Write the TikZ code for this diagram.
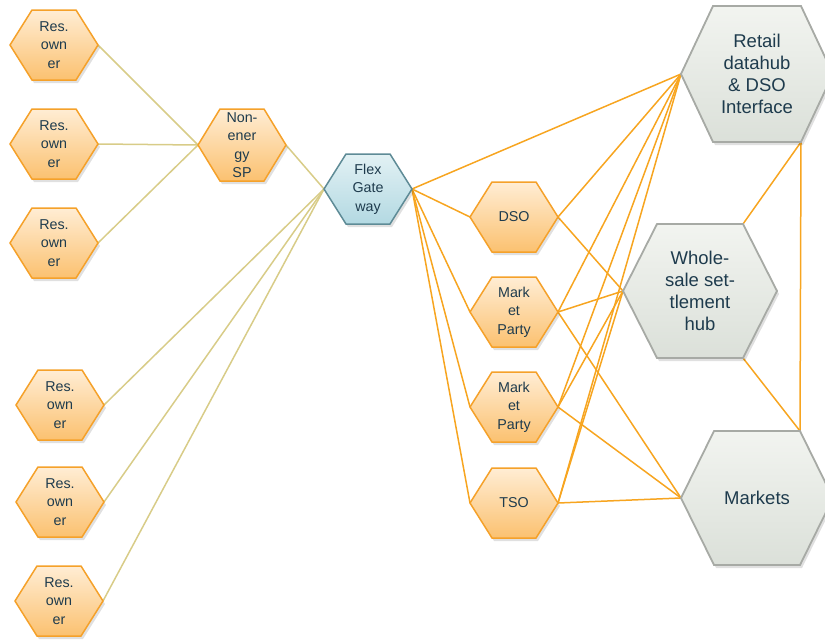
\documentclass[tikz,border=0pt]{standalone}
\usepackage{fontspec}
\setmainfont{Liberation Sans}
\usetikzlibrary{backgrounds}
\definecolor{lineor}{HTML}{F7A520}
\definecolor{linekh}{HTML}{D8CC88}
\definecolor{ortop}{HTML}{FFEDD4}
\definecolor{orbot}{HTML}{FBC170}
\definecolor{orbrd}{HTML}{F5A12A}
\definecolor{grtop}{HTML}{F2F4F0}
\definecolor{grbot}{HTML}{DBE0D9}
\definecolor{grbrd}{HTML}{A7AAA5}
\definecolor{bltop}{HTML}{E2F1F4}
\definecolor{blbot}{HTML}{B3D9E2}
\definecolor{blbrd}{HTML}{5E8B96}
\definecolor{txtc}{HTML}{1E3B4D}
\tikzset{
  orhex/.style={draw=orbrd, line width=1.5pt, top color=ortop, bottom color=orbot},
  grhex/.style={draw=grbrd, line width=1.8pt, top color=grtop, bottom color=grbot},
  blhex/.style={draw=blbrd, line width=1.5pt, top color=bltop, bottom color=blbot},
  smalltxt/.style={text=txtc, align=center, inner sep=0pt, font=\fontsize{14.3}{18.5}\selectfont},
  bigtxt/.style={text=txtc, align=center, inner sep=0pt, font=\fontsize{18.5}{22}\selectfont},
  kline/.style={draw=linekh, line width=1.5pt},
  oline/.style={draw=lineor, line width=1.5pt},
  hexshadow/.style={fill=black, opacity=0.12}
}
% #1 name, #2 x, #3 y, #4 half width, #5 half height, #6 half top edge, #7 shape style, #8 text style, #9 text
\newcommand{\hexa}[9]{%
  \fill[hexshadow] ({#2-#4+2},{#3+3}) -- ({#2-#6+2},{#3-#5+3}) -- ({#2+#6+2},{#3-#5+3}) -- ({#2+#4+2},{#3+3}) -- ({#2+#6+2},{#3+#5+3}) -- ({#2-#6+2},{#3+#5+3}) -- cycle;
  \path[#7] ({#2-#4},{#3}) coordinate (#1-W) -- ({#2-#6},{#3-#5}) coordinate (#1-NW) -- ({#2+#6},{#3-#5}) coordinate (#1-NE) -- ({#2+#4},{#3}) coordinate (#1-E) -- ({#2+#6},{#3+#5}) coordinate (#1-SE) -- ({#2-#6},{#3+#5}) coordinate (#1-SW) -- cycle;
  \node[#8] (#1) at (#2,#3) {#9};
}
\begin{document}
\begin{tikzpicture}[x=1pt, y=-1pt]
\useasboundingbox (0,0) rectangle (825,640);
% left resource owners
\hexa{res1}{54}{45}{44}{35}{22}{orhex}{smalltxt}{Res.\\own\\er}
\hexa{res2}{54}{144}{44}{35}{22}{orhex}{smalltxt}{Res.\\own\\er}
\hexa{res3}{54}{243}{44}{35}{22}{orhex}{smalltxt}{Res.\\own\\er}
\hexa{res4}{60}{405}{44}{35}{22}{orhex}{smalltxt}{Res.\\own\\er}
\hexa{res5}{60}{502}{44}{35}{22}{orhex}{smalltxt}{Res.\\own\\er}
\hexa{res6}{59}{601}{44}{35}{22}{orhex}{smalltxt}{Res.\\own\\er}
% service provider and gateway
\hexa{nesp}{242}{145}{44}{36}{22}{orhex}{smalltxt}{Non-\\ener\\gy\\SP}
\hexa{flex}{368}{189}{44}{35}{22}{blhex}{smalltxt}{Flex\\Gate\\way}
% middle column
\hexa{dso}{514}{217}{44}{35}{22}{orhex}{smalltxt}{DSO}
\hexa{mp1}{514}{312}{44}{35}{22}{orhex}{smalltxt}{Mark\\et\\Party}
\hexa{mp2}{514}{407}{44}{35}{22}{orhex}{smalltxt}{Mark\\et\\Party}
\hexa{tso}{514}{503}{44}{35}{22}{orhex}{smalltxt}{TSO}
% right hubs
\hexa{retail}{757}{74}{76}{68}{44}{grhex}{bigtxt}{Retail\\datahub\\\& DSO\\Interface}
\hexa{whole}{700}{291}{77}{67}{43}{grhex}{bigtxt}{Whole-\\sale set-\\tlement\\hub}
\hexa{markets}{757}{498}{76}{67}{43}{grhex}{bigtxt}{Markets}
\begin{scope}[on background layer]
  \draw[kline] (res1-E) -- (nesp-W);
  \draw[kline] (res2-E) -- (nesp-W);
  \draw[kline] (res3-E) -- (nesp-W);
  \draw[kline] (nesp-E) -- (flex-W);
  \draw[kline] (res4-E) -- (flex-W);
  \draw[kline] (res5-E) -- (flex-W);
  \draw[kline] (res6-E) -- (flex-W);
  \draw[oline] (flex-E) -- (retail-W);
  \draw[oline] (flex-E) -- (dso-W);
  \draw[oline] (flex-E) -- (mp1-W);
  \draw[oline] (flex-E) -- (mp2-W);
  \draw[oline] (flex-E) -- (tso-W);
  \draw[oline] (dso-E) -- (retail-W);
  \draw[oline] (dso-E) -- (whole-W);
  \draw[oline] (mp1-E) -- (retail-W);
  \draw[oline] (mp1-E) -- (whole-W);
  \draw[oline] (mp1-E) -- (markets-W);
  \draw[oline] (mp2-E) -- (retail-W);
  \draw[oline] (mp2-E) -- (whole-W);
  \draw[oline] (mp2-E) -- (markets-W);
  \draw[oline] (tso-E) -- (retail-W);
  \draw[oline] (tso-E) -- (whole-W);
  \draw[oline] (tso-E) -- (markets-W);
  \draw[oline] (whole-NE) -- (retail-SE);
  \draw[oline] (whole-SE) -- (markets-NE);
  \draw[oline] (retail-SE) -- (markets-NE);
\end{scope}
\end{tikzpicture}
\end{document}
